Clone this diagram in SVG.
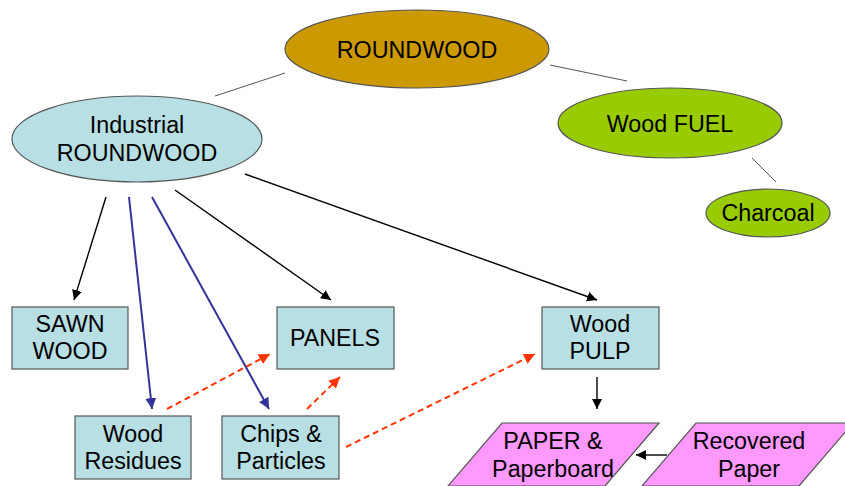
<svg xmlns="http://www.w3.org/2000/svg" width="845" height="486" viewBox="0 0 845 486">
<defs>
<style>
text{font-family:"Liberation Sans",Arial,sans-serif;font-size:23.3px;fill:#000;text-anchor:middle}
.node{stroke:#555;stroke-width:1.2}
.box{fill:#b8dfe3}
.par{fill:#ff99ff}
.thin{stroke:#555;stroke-width:1;fill:none}
.blk{stroke:#000;stroke-width:1.4;fill:none}
.blu{stroke:#333399;stroke-width:2;fill:none}
.red{stroke:#ff3300;stroke-width:2;fill:none;stroke-dasharray:6 4}
</style>
<marker id="ab" viewBox="0 0 10 10" refX="10" refY="5" markerWidth="10" markerHeight="10" markerUnits="userSpaceOnUse" orient="auto"><path d="M0,0 L10,5 L0,10 z" fill="#000"/></marker>
<marker id="au" viewBox="0 0 10 10" refX="10" refY="5" markerWidth="11" markerHeight="11" markerUnits="userSpaceOnUse" orient="auto"><path d="M0,0 L10,5 L0,10 z" fill="#333399"/></marker>
<marker id="ar" viewBox="0 0 10 10" refX="10" refY="5" markerWidth="11" markerHeight="11" markerUnits="userSpaceOnUse" orient="auto"><path d="M0,0 L10,5 L0,10 z" fill="#ff3300"/></marker>
</defs>
<rect width="845" height="486" fill="#fff"/>
<g id="connectors">
<line class="thin" x1="285" y1="73" x2="215" y2="96"/>
<line class="thin" x1="550" y1="65" x2="627" y2="81"/>
<line class="thin" x1="752" y1="158" x2="776" y2="182"/>
<line class="blk" x1="106" y1="197" x2="74" y2="300" marker-end="url(#ab)"/>
<line class="blu" x1="129" y1="197" x2="152" y2="409" marker-end="url(#au)"/>
<line class="blu" x1="152" y1="197" x2="269" y2="409" marker-end="url(#au)"/>
<line class="blk" x1="175" y1="190" x2="331" y2="300" marker-end="url(#ab)"/>
<line class="blk" x1="245" y1="174" x2="597" y2="300" stroke-width="2" marker-end="url(#ab)"/>
<line class="blk" x1="597" y1="377" x2="597" y2="409" stroke-width="1.6" marker-end="url(#ab)"/>
<line class="blk" x1="667" y1="455" x2="636" y2="455" stroke-width="2" marker-end="url(#ab)"/>
<line class="red" x1="167" y1="409" x2="270" y2="354" marker-end="url(#ar)"/>
<line class="red" x1="307" y1="409" x2="340" y2="377" marker-end="url(#ar)"/>
<line class="red" x1="346" y1="447" x2="535" y2="354" marker-end="url(#ar)"/>
</g>
<g id="roundwood">
<ellipse class="node" cx="417" cy="49" rx="132" ry="39" fill="#cc9900"/>
<text x="417" y="58">ROUNDWOOD</text>
</g>
<g id="industrial">
<ellipse class="node" cx="137" cy="139" rx="125" ry="43" fill="#b8dfe3"/>
<text x="137" y="133">Industrial</text>
<text x="137" y="161">ROUNDWOOD</text>
</g>
<g id="woodfuel">
<ellipse class="node" cx="670" cy="123" rx="112" ry="35" fill="#99cc00"/>
<text x="670" y="132">Wood FUEL</text>
</g>
<g id="charcoal">
<ellipse class="node" cx="768" cy="213" rx="62" ry="24" fill="#99cc00"/>
<text x="768" y="221">Charcoal</text>
</g>
<g id="sawnwood">
<rect class="node box" x="12" y="307" width="116" height="62"/>
<text x="70" y="332">SAWN</text>
<text x="70" y="359">WOOD</text>
</g>
<g id="panels">
<rect class="node box" x="277" y="307" width="117" height="62"/>
<text x="335" y="346">PANELS</text>
</g>
<g id="woodpulp">
<rect class="node box" x="542" y="307" width="117" height="62"/>
<text x="600" y="332">Wood</text>
<text x="600" y="359">PULP</text>
</g>
<g id="woodresidues">
<rect class="node box" x="75" y="416" width="116" height="63"/>
<text x="133" y="442">Wood</text>
<text x="133" y="469">Residues</text>
</g>
<g id="chips">
<rect class="node box" x="222" y="416" width="117" height="63"/>
<text x="281" y="442">Chips &amp;</text>
<text x="281" y="469">Particles</text>
</g>
<g id="paper">
<polygon class="node par" points="502,423 659,423 605,486 448,486"/>
<text x="553" y="449">PAPER &amp;</text>
<text x="553" y="477">Paperboard</text>
</g>
<g id="recovered">
<polygon class="node par" points="696,423 853,423 799,486 642,486"/>
<text x="749" y="449">Recovered</text>
<text x="749" y="477">Paper</text>
</g>
</svg>
